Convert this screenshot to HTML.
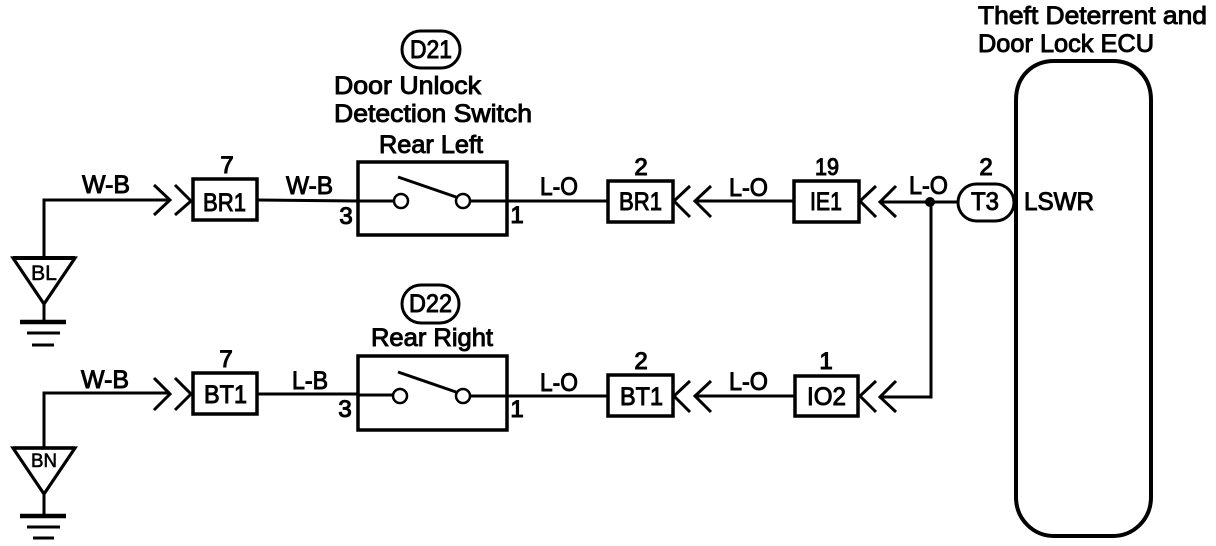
<!DOCTYPE html>
<html><head><meta charset="utf-8">
<style>
html,body{margin:0;padding:0;background:#fff;width:1216px;height:546px;overflow:hidden}
svg{display:block}
text{font-family:"Liberation Sans",sans-serif;fill:#000;stroke:#000;stroke-width:.95px;font-size:25px}
.d{font-size:24px;stroke-width:1.1px}
.m{text-anchor:middle}
.w{fill:none;stroke:#000;stroke-width:3}
.b{fill:#fff;stroke:#000;stroke-width:3.5}
</style></head><body>
<svg width="1216" height="546" viewBox="0 0 1216 546" xmlns="http://www.w3.org/2000/svg">
<!-- wires -->
<path class="w" d="M44 258V200H170M257 200L357 201H393M470 201H608M695 201H793M880 202H958M931 202V397H880M695 396H795M507 396H608M357 395H393M257 394H357M44 447V393H170"/>
<path class="w" d="M44 305V322M44 495V516"/>
<!-- ground triangles -->
<path d="M13 258H75L44 304Z" fill="#fff" stroke="#000" stroke-width="3.2"/>
<path d="M13 258H75" stroke="#000" stroke-width="4"/>
<path d="M13 448H75L44 494Z" fill="#fff" stroke="#000" stroke-width="3.2"/>
<path d="M13 448H75" stroke="#000" stroke-width="3.5"/>
<!-- ground bars -->
<path d="M20 322H66" stroke="#000" stroke-width="4.5"/>
<path d="M27 333H60" stroke="#000" stroke-width="3"/>
<path d="M32 345H54" stroke="#000" stroke-width="3"/>
<path d="M20 516H66" stroke="#000" stroke-width="4.5"/>
<path d="M27 527H60" stroke="#000" stroke-width="3"/>
<path d="M33 538H54" stroke="#000" stroke-width="3"/>
<!-- chevrons -->
<path class="w" d="M154 185L170 200L154 215M175 185L191 201L175 215"/>
<path class="w" d="M154 378L170 394L154 410M175 378L191 394L175 410"/>
<path class="w" d="M690 186L674 201L690 217M711 186L695 201L711 217"/>
<path class="w" d="M876 186L860 201L876 217M896 186L880 202L896 217"/>
<path class="w" d="M690 381L674 396L690 412M711 381L695 396L711 412"/>
<path class="w" d="M876 381L860 396L876 412M896 381L880 397L896 412"/>
<!-- boxes -->
<rect class="b" x="193" y="179" width="64" height="41"/>
<rect class="b" x="193" y="373" width="64" height="41"/>
<rect class="b" x="608" y="181" width="65" height="41"/>
<rect class="b" x="608" y="375" width="65" height="41"/>
<rect class="b" x="794" y="181" width="65" height="41"/>
<rect class="b" x="795" y="376" width="63" height="40"/>
<!-- switches -->
<rect x="358" y="162" width="149" height="73" fill="none" stroke="#000" stroke-width="3.5"/>
<rect x="358" y="356" width="149" height="74" fill="none" stroke="#000" stroke-width="3.5"/>
<path class="w" d="M357 201H393M470 201H507M357 395H393M470 396H507"/>
<path d="M398 177L456 197M398 372L456 392" stroke="#000" stroke-width="3" fill="none"/>
<circle cx="401" cy="201" r="7" fill="#fff" stroke="#000" stroke-width="2.5"/>
<circle cx="463" cy="201" r="7" fill="#fff" stroke="#000" stroke-width="2.5"/>
<circle cx="400" cy="396" r="7" fill="#fff" stroke="#000" stroke-width="2.5"/>
<circle cx="463" cy="396" r="7" fill="#fff" stroke="#000" stroke-width="2.5"/>
<!-- pills -->
<rect x="402" y="31" width="58" height="37" rx="18.5" fill="#fff" stroke="#000" stroke-width="3"/>
<rect x="402" y="285" width="57" height="38" rx="19" fill="#fff" stroke="#000" stroke-width="3"/>
<!-- ECU -->
<path d="M1016 100C1016 75 1034 61 1054 61H1113C1133 61 1151 75 1151 100V497C1151 520 1133 536 1113 536H1054C1034 536 1016 520 1016 497Z" fill="#fff" stroke="#000" stroke-width="4"/>
<rect x="958" y="184" width="56" height="37" rx="18.5" fill="#fff" stroke="#000" stroke-width="3"/>
<circle cx="930" cy="202" r="5" fill="#000"/>
<!-- labels -->
<text x="978" y="24" textLength="229" lengthAdjust="spacingAndGlyphs">Theft Deterrent and</text>
<text x="978" y="52" textLength="176" lengthAdjust="spacingAndGlyphs">Door Lock ECU</text>
<text x="410" y="58" textLength="42" lengthAdjust="spacingAndGlyphs">D21</text>
<text x="334" y="94" textLength="147" lengthAdjust="spacingAndGlyphs">Door Unlock</text>
<text x="334" y="122" textLength="198" lengthAdjust="spacingAndGlyphs">Detection Switch</text>
<text x="379" y="153" textLength="104" lengthAdjust="spacingAndGlyphs">Rear Left</text>
<text x="409" y="312" textLength="43" lengthAdjust="spacingAndGlyphs">D22</text>
<text x="371" y="346" textLength="122" lengthAdjust="spacingAndGlyphs">Rear Right</text>
<text x="82" y="193" textLength="48" lengthAdjust="spacingAndGlyphs">W-B</text>
<text x="286" y="194" textLength="47" lengthAdjust="spacingAndGlyphs">W-B</text>
<text x="81" y="388" textLength="48" lengthAdjust="spacingAndGlyphs">W-B</text>
<text x="292" y="389" textLength="36" lengthAdjust="spacingAndGlyphs">L-B</text>
<text x="540" y="195" textLength="38" lengthAdjust="spacingAndGlyphs">L-O</text>
<text x="729" y="196" textLength="39" lengthAdjust="spacingAndGlyphs">L-O</text>
<text x="909" y="194" textLength="39" lengthAdjust="spacingAndGlyphs">L-O</text>
<text x="540" y="391" textLength="38" lengthAdjust="spacingAndGlyphs">L-O</text>
<text x="729" y="390" textLength="39" lengthAdjust="spacingAndGlyphs">L-O</text>
<text x="203" y="211" textLength="43" lengthAdjust="spacingAndGlyphs">BR1</text>
<text x="204" y="403" textLength="43" lengthAdjust="spacingAndGlyphs">BT1</text>
<text x="619" y="210" textLength="43" lengthAdjust="spacingAndGlyphs">BR1</text>
<text x="620" y="405" textLength="43" lengthAdjust="spacingAndGlyphs">BT1</text>
<text x="810" y="210" textLength="32" lengthAdjust="spacingAndGlyphs">IE1</text>
<text x="807" y="405" textLength="39" lengthAdjust="spacingAndGlyphs">IO2</text>
<text x="971" y="210" textLength="28" lengthAdjust="spacingAndGlyphs">T3</text>
<text x="1024" y="210" textLength="70" lengthAdjust="spacingAndGlyphs">LSWR</text>
<text x="227" y="173" class="m d">7</text>
<text x="226" y="367" class="m d">7</text>
<text x="641" y="175" class="m d">2</text>
<text x="641" y="369" class="m d">2</text>
<text x="815" y="175" class="d" textLength="24" lengthAdjust="spacingAndGlyphs">19</text>
<text x="826" y="369" class="m d">1</text>
<text x="986" y="175" class="m d">2</text>
<text x="346" y="224" class="m d">3</text>
<text x="345" y="417" class="m d">3</text>
<text x="517" y="223" class="m d">1</text>
<text x="517" y="417" class="m d">1</text>
<text x="31" y="280" textLength="26" lengthAdjust="spacingAndGlyphs" style="font-size:21px;stroke-width:.5px">BL</text>
<text x="31" y="467" textLength="26" lengthAdjust="spacingAndGlyphs" style="font-size:19px;stroke-width:.6px">BN</text>
</svg>
</body></html>
